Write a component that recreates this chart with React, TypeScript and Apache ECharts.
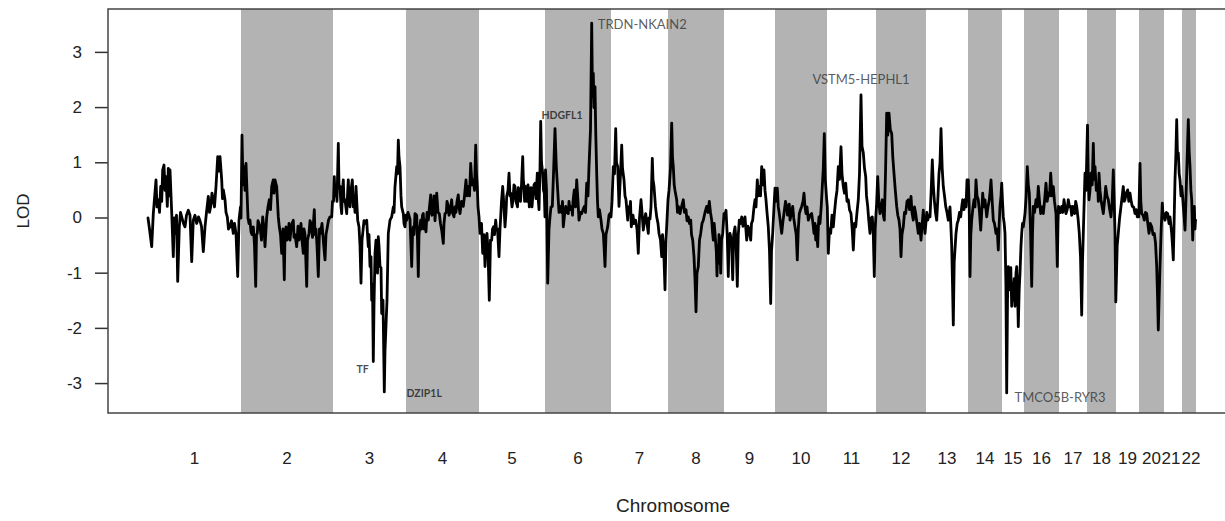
import React, { useEffect, useRef } from "react";
import * as echarts from "echarts";

// Chromosome names and (plotted) lengths in map units
const CHROMOSOMES = ["1","2","3","4","5","6","7","8","9","10","11","12","13","14","15","16","17","18","19","20","21","22"];
const CHROM_LENGTHS = [93, 92, 73, 73, 66, 66, 57, 56, 51, 52, 49, 50, 42, 34, 22, 35, 28, 29, 23, 25, 18, 14];

// LOD profile per chromosome: [position within chromosome, LOD]
const LOD_CHR1 = [[0,0],[1.5,-0.2],[3.7,-0.52],[5.3,0.08],[8,0.69],[9,0.2],[10.3,0.33],[11.5,0.1],[12.7,0.57],[13.7,0.3],[14.7,0.87],[16,0.96],[17,0.5],[18,0.75],[19.3,0.21],[20.3,0.9],[21,0.4],[22,0.87],[23.7,0.1],[25.3,-0.7],[26.3,0.0],[27.3,-0.28],[28.5,0.05],[29.7,-1.15],[31.3,-0.16],[32.5,0.1],[33.7,0.02],[35.5,-0.1],[37,-0.16],[38.5,0.05],[40.3,0.14],[42,0.05],[43.7,-0.79],[45.3,-0.04],[47,0.05],[48.7,-0.1],[50.5,0.02],[52,-0.05],[53.5,-0.15],[55.3,-0.61],[57,-0.16],[58.5,0.1],[60.3,0.39],[61.5,0.1],[62.7,0.21],[64,0.45],[65.3,0.33],[66.5,0.2],[68,0.57],[69.7,1.11],[71,0.85],[72,1.11],[73.7,0.69],[74.5,0.35],[75.3,0.51],[77,0.33],[78,0.1],[79.3,0.02],[80.5,-0.2],[82,-0.16],[83.5,-0.05],[85.3,-0.28],[86.5,-0.1],[88,-0.28],[89.7,-1.06],[91,-0.04],[92.5,0.2]];
const LOD_CHR2 = [[0,0.0],[1,1.5],[2,0.6],[3,0.93],[4,0.5],[5,0.99],[6.3,0.33],[7,0.0],[8,-0.1],[9,-0.04],[10,-0.25],[11,-0.3],[12.3,-0.16],[13.5,-0.5],[14.7,-1.24],[15.5,-0.3],[16.3,-0.28],[17,-0.05],[18,-0.1],[19,-0.16],[20.5,-0.4],[21.7,0.02],[23,-0.2],[24,-0.52],[25.7,0.02],[27,0.2],[28.3,0.33],[29.5,0.15],[30.7,0.57],[32.3,0.69],[33,0.45],[34,0.69],[35.7,0.57],[37.3,0.02],[38.3,-0.16],[39.5,-0.3],[40.7,-0.64],[42,-0.2],[43.3,-1.12],[44,-0.3],[45,-0.16],[46,-0.4],[47,-0.35],[48,-0.1],[49,-0.4],[50,-0.2],[51,-0.1],[52.3,-0.04],[53,-0.35],[54,-0.3],[55.7,-0.52],[57,-0.15],[58,-0.4],[59,-0.28],[60,-0.1],[61,-0.4],[62.3,-0.64],[63,-0.2],[64,-0.3],[65.7,-1.24],[66.5,-0.4],[68,-0.28],[69,-0.05],[70,-0.1],[71.5,-0.35],[73.3,0.15],[74,-0.3],[75,-0.2],[76,-0.5],[77.3,-1.06],[78.5,-0.2],[79.5,-0.28],[81,-0.1],[82.5,-0.45],[84,-0.76],[85,-0.3],[86,-0.2],[87.5,-0.04],[89,0.02],[90.7,0.02],[91.5,0.3]];
const LOD_CHR3 = [[0.5,0.3],[1.3,0.75],[2,0.4],[3,0.57],[4,0.3],[5.3,1.35],[6,0.6],[7,0.57],[8,0.2],[8.7,0.08],[9.5,0.5],[10.3,0.69],[11,0.3],[12,0.33],[13.7,0.08],[14.5,0.4],[15.3,0.69],[16,0.3],[17,0.2],[18,0.5],[19.3,0.69],[20.3,0.2],[21.3,0.33],[22,0.1],[23,0.57],[24.7,-0.04],[26,-0.16],[27,-0.5],[28,-1.18],[29,-0.4],[29.7,-0.28],[31,-0.05],[32,-0.1],[33.7,-0.04],[34.5,-0.3],[35.3,-0.52],[36,-0.3],[37,-0.88],[38,-0.7],[38.7,-1.49],[39.5,-1.2],[40.3,-2.6],[41,-1.6],[42,-0.64],[43,-0.4],[43.7,-0.4],[44.5,-1.0],[45.3,-0.34],[46,-0.5],[47,-0.88],[48,-0.9],[48.7,-1.73],[50,-1.49],[51.3,-3.15],[52,-2.4],[52.7,-2.1],[53.3,-1.8],[54,-1.49],[55.3,-0.28],[57,-0.04],[58.7,0.02],[60.3,0.2],[61,0.1],[62,0.57],[63.7,0.93],[64.5,0.8],[65.3,1.41],[66,1.1],[67,0.93],[68,0.4],[68.7,0.2],[70.3,0.08],[71,-0.1],[72,-0.16],[73,0.05]];
const LOD_CHR4 = [[0.7,-0.04],[2,0.1],[4,-0.02],[5.7,-0.88],[6.5,-0.3],[7.3,-0.16],[8,-0.3],[9,0.08],[10.7,0.05],[11.5,-0.4],[12.3,-1.06],[13,-0.3],[14.7,-0.04],[15.5,-0.2],[16.5,0.05],[17.3,0.08],[18,-0.2],[19,-0.04],[20,-0.25],[21,0.1],[22.3,-0.04],[23.5,0.2],[24.7,0.42],[25.5,0.1],[26,0.05],[27.3,0.21],[28,0.4],[29,-0.05],[30.7,0.45],[32,0.1],[33.3,0.08],[34.5,-0.1],[35.7,-0.22],[37.3,-0.46],[38,-0.1],[39,0.08],[40.3,0.1],[41,0.3],[42.3,0.21],[43,0.05],[44,0.1],[45.7,0.33],[46.5,0.1],[48,0.02],[49,0.2],[50,0.1],[51,0.3],[52.3,0.42],[53,0.2],[54,0.08],[55.5,0.3],[57.3,0.21],[58.5,0.4],[60,0.69],[61,0.4],[62.3,0.57],[63.5,0.4],[64.7,0.99],[66,0.6],[67.3,0.69],[68.5,0.5],[69.7,1.32],[70.5,0.8],[71.3,0.57],[72,0.2],[73,0.02]];
const LOD_CHR5 = [[1,-0.28],[2.5,-0.1],[3.7,-0.64],[5,-0.3],[6,-0.88],[7,-0.5],[8,-0.28],[9,-0.6],[10.3,-1.49],[11.5,-0.4],[12.7,-0.4],[13.5,-0.2],[14.5,-0.16],[15.5,-0.3],[16.7,-0.04],[17.5,-0.2],[18.5,-0.2],[20,-0.7],[21,-0.2],[21.7,0.02],[22.5,0.3],[23.7,0.57],[25,0.2],[26,-0.16],[27,0.1],[27.7,0.39],[29,0.5],[30,0.81],[31,0.4],[31.7,0.45],[33,0.2],[34,0.33],[35,0.6],[36,0.57],[37,0.3],[38.5,0.2],[39.3,0.55],[40,0.5],[41.5,0.3],[42.5,0.6],[43.7,1.11],[44.3,0.7],[45,0.57],[45.6,0.3],[46.3,0.57],[47.2,0.4],[48,0.3],[49,0.6],[49.7,0.45],[50.3,0.2],[51,0.33],[52,0.55],[53,0.2],[54,0.45],[55,0.6],[56,0.63],[57,0.35],[58.3,0.81],[59,0.4],[60,0.15],[61,0.9],[61.7,1.75],[62.5,1.0],[63.7,0.81],[64.5,0.5],[65.3,0.45],[66,0.02]];
const LOD_CHR6 = [[0.5,0.87],[1.5,0.5],[2.7,-1.18],[4,-0.2],[5,0.02],[6,0.2],[7.3,0.21],[8.5,0.8],[10,1.62],[11.3,0.93],[12.7,0.5],[14,0.1],[15,0.21],[16.5,0.1],[17.5,0.3],[18.3,-0.16],[19.5,0.05],[20.7,0.21],[22,0.1],[23.3,0.08],[24,0.3],[25,0.15],[26.7,0.21],[27.5,0.05],[28,0.3],[29.3,0.51],[30.5,0.2],[31.7,0.69],[33,0.3],[34,-0.04],[35.5,0.1],[36.7,0.08],[38,0.15],[39.3,0.21],[40.5,0.1],[41.7,0.63],[43,0.4],[44,0.93],[45.5,1.6],[46.7,3.53],[47.5,2.2],[48.3,2.62],[49,2.0],[50,2.38],[50.8,1.5],[51.7,0.81],[52.5,0.3],[53.3,0.02],[54.5,0.15],[56,-0.04],[57,-0.2],[58.3,-0.28],[59,-0.5],[60,-0.88],[61,-0.3],[62.7,-0.16],[64,0.05],[65,0.08]];
const LOD_CHR7 = [[0,0.02],[1,0.3],[2.3,0.93],[3.5,0.8],[4.7,1.62],[5.5,1.0],[6.7,0.93],[8,0.21],[9.5,0.8],[10.7,1.32],[11.5,0.9],[13,0.69],[14,0.4],[15,0.33],[16.7,-0.04],[17.5,0.2],[18.5,0.1],[19.5,0.3],[20.3,-0.16],[22,0.05],[23,-0.1],[24.7,-0.04],[26,-0.2],[27.3,-0.64],[28.5,0.0],[30,0.33],[31,0.1],[32.3,-0.22],[33.5,-0.05],[34.7,0.08],[36,-0.1],[37.3,-0.28],[38,0.0],[39,-0.02],[40,0.2],[41.3,1.08],[42,0.7],[43,0.57],[44.5,0.2],[45.7,0.02],[47,-0.1],[48,-0.28],[49.5,-0.4],[50.7,-0.7],[51.5,-0.3],[52.5,-0.5],[53.3,-0.9],[54,-1.3],[55,-0.4],[56,-0.04],[57,0.33]];
const LOD_CHR8 = [[1,0.5],[2.5,0.9],[3.7,1.72],[4.5,1.1],[5.3,0.93],[6.2,0.6],[7,0.5],[8.7,0.33],[9.5,0.1],[10.3,0.21],[12,0.08],[13.5,0.2],[15.3,0.33],[16.5,0.1],[18,0.15],[19,-0.05],[20.3,0.02],[21.5,-0.1],[22.7,-0.04],[23.5,-0.3],[24.7,-0.4],[26,-0.7],[27,-1.12],[28,-1.7],[29,-1.0],[30.3,-0.88],[31.5,-0.4],[32.7,-0.28],[34,-0.1],[35.3,-0.04],[37,0.1],[38.7,0.21],[40,0.1],[41.3,0.3],[42.5,0.1],[43.7,-0.04],[44.5,-0.25],[45.3,-0.4],[46.2,-0.1],[47,-0.28],[48.3,-0.6],[49,-1.05],[49.7,-0.5],[50.3,-0.82],[51,-0.3],[51.5,-0.4],[52.2,-0.7],[52.7,-1.0],[53.5,-0.4],[54.7,-0.28],[56,0.08]];
const LOD_CHR9 = [[0.5,0.0],[2,0.14],[3.2,-0.3],[4.3,-1.06],[5,-0.4],[6,-0.28],[7.5,-0.4],[8.7,-1.12],[9.7,-0.3],[11,-0.16],[12,-0.4],[13.3,-1.24],[14.3,-0.3],[15.3,-0.04],[16.5,-0.1],[17.7,0.02],[19,-0.15],[20,-0.05],[21,0.02],[22.7,-0.4],[24,-0.15],[25,-0.2],[26.7,-0.4],[27.5,-0.1],[28.7,-0.04],[30,0.2],[31,0.33],[32,0.2],[33.3,0.69],[34.3,0.4],[35.3,0.57],[36.5,0.4],[37.7,0.93],[38.7,0.6],[40,0.87],[41,0.5],[42,0.33],[43,0.1],[44.3,-0.16],[45.5,-0.6],[46.7,-1.55],[47.5,-0.6],[48.7,-0.28],[50,0.2],[51,0.54]];
const LOD_CHR10 = [[0.5,0.3],[2.3,0.54],[3.3,0.2],[4.3,0.08],[5.5,-0.1],[6.7,-0.28],[8,-0.05],[9,0.08],[10.5,0.3],[11.7,0.21],[12.5,0.05],[13.5,0.05],[14.3,0.25],[15,-0.04],[16.5,0.1],[17.7,0.21],[18.7,0.0],[20,-0.16],[21.2,-0.3],[22.3,-0.76],[23.3,-0.2],[24.3,0.08],[25.5,0.15],[26.7,0.21],[28,0.3],[29,0.45],[30,0.2],[31,0.08],[32,0.2],[33.3,-0.04],[35,0.05],[36.7,0.08],[38,-0.1],[39,-0.28],[40,-0.1],[40.7,-0.4],[41.5,-0.15],[42.7,-0.52],[43.5,-0.1],[44,0.02],[45,-0.1],[46.2,0.2],[47.3,0.57],[48.3,0.9],[49.3,1.53],[50.3,0.7],[51.7,0.33]];
const LOD_CHR11 = [[0.3,0.2],[1.3,-0.64],[2.5,-0.2],[3.7,-0.28],[5,0.05],[6.3,-0.16],[7.5,0.1],[8.7,0.33],[10,0.5],[11.3,0.93],[12.5,0.7],[14,1.29],[15,0.8],[16.3,0.57],[17.5,0.45],[18.7,0.63],[20,0.3],[21.3,0.33],[22.5,0.15],[24,0.08],[25.2,-0.2],[26.3,-0.58],[27.5,-0.1],[28.7,-0.16],[30,0.1],[31.3,0.33],[32.5,0.8],[34,2.23],[35,1.3],[36.3,1.18],[37.5,0.9],[38.7,0.75],[39.5,0.4],[40.7,0.21],[41.8,-0.05],[43,-0.28],[44,0.0],[45.3,0.02],[46.3,-0.3],[47.3,-1.06],[48.2,-0.2],[49,0.08]];
const LOD_CHR12 = [[0.5,0.2],[1.7,0.75],[2.8,0.3],[4,0.08],[5,0.2],[6.3,0.33],[7.3,0.05],[8.3,-0.04],[9.5,0.8],[10.7,1.9],[11.8,1.5],[13,1.9],[14.3,1.6],[15.7,1.53],[16.8,1.1],[18,0.81],[19.3,0.5],[20.7,0.21],[21.8,0.05],[23,-0.04],[24,-0.2],[25,-0.7],[26,-0.3],[27.3,-0.16],[28.5,0.1],[29.7,0.08],[31,0.3],[32.3,0.33],[33.5,0.15],[35,0.39],[36,0.1],[37.3,-0.04],[38.5,0.2],[39.7,0.08],[41,-0.1],[42.3,-0.28],[43.5,-0.1],[45,-0.4],[46.2,-0.1],[47.3,0.14],[48.2,-0.1],[49,-0.28]];
const LOD_CHR13 = [[0.8,0.1],[1.7,-0.04],[3,0.05],[4,0.02],[5.2,0.5],[6.3,1.05],[7.3,0.6],[8.3,0.33],[9.5,0.1],[10.7,-0.04],[12,0.4],[13,0.81],[14,1.0],[15,1.62],[16.2,0.9],[17.3,0.57],[18.5,0.4],[19.7,0.21],[21,0.1],[22.3,-0.04],[23.2,0.1],[24,0.2],[25,-0.2],[25.7,-0.5],[26.5,-1.2],[27.3,-1.94],[28.2,-0.8],[30,-0.28],[31.2,-0.1],[32.3,-0.04],[33.5,0.1],[34.7,0.02],[35.7,0.2],[36.7,0.33],[38,0.15],[39,0.33],[40,0.2],[41,0.69]];
const LOD_CHR14 = [[0.3,0.69],[1.2,0.2],[2,-1.06],[2.8,-0.3],[3.7,-0.04],[5,0.2],[6,0.33],[7,0.2],[8,0.69],[9,0.4],[10.3,0.33],[11.5,0.1],[12.7,-0.22],[13.7,0.1],[14.7,0.45],[15.8,0.2],[17,0.33],[18,0.15],[18.7,0.02],[20,0.2],[21.3,0.33],[22.2,0.5],[23,0.69],[24.2,0.3],[25.3,-0.04],[26.5,-0.1],[28,-0.28],[29.2,-0.2],[30.3,-0.58],[31.2,-0.1],[32,0.21],[33,0.4],[33.7,0.63]];
const LOD_CHR15 = [[0.5,0.3],[1.3,0.02],[2.2,-0.1],[3,-0.28],[3.9,-1.2],[4.7,-3.17],[5.5,-1.5],[6.3,-0.88],[7.2,-1.1],[8,-1.3],[8.8,-0.9],[9.7,-1.6],[10.5,-1.2],[11.3,-1.49],[12.2,-1.1],[13,-1.6],[14,-1.0],[14.7,-0.88],[15.5,-1.3],[16.3,-1.97],[17.2,-1.3],[18,-1.0],[19,-0.5],[19.7,-0.28],[20.5,-0.1],[21.3,-0.16]];
const LOD_CHR16 = [[1,0.08],[2.2,0.4],[3.3,0.93],[4.3,0.6],[5.3,0.45],[6.5,-0.2],[7.7,-1.24],[8.5,-0.3],[9.3,0.21],[10.5,0.1],[12,0.33],[13.2,0.2],[14.3,0.57],[15.5,0.3],[16.7,0.08],[18,0.2],[19.3,0.08],[20.5,0.3],[22,0.63],[23.2,0.3],[24.3,0.45],[25.5,0.4],[26.7,0.81],[28,0.4],[29.3,0.57],[30.5,0.3],[32,0.08],[32.7,-0.4],[33.3,-0.88],[34,-0.1],[34.5,0.21]];
const LOD_CHR17 = [[1.5,0.1],[2.7,0.21],[3.8,0.1],[5,0.33],[6,0.2],[7,0.08],[8.2,0.15],[9.3,0.33],[10.5,0.2],[11.7,0.21],[12.7,0.05],[13.7,0.21],[14.7,0.1],[15.7,0.08],[16.7,0.3],[17.7,0.21],[19,0.0],[20.3,-0.28],[21.5,-0.7],[22.7,-1.76],[23.5,-0.8],[24.3,-0.28],[25.2,0.3],[26,0.81],[27,0.5],[27.5,0.5]];
const LOD_CHR18 = [[0.5,1.68],[1.2,0.8],[2,0.33],[3,0.5],[4,0.81],[5.2,0.6],[6.3,1.35],[7.2,0.7],[8,0.93],[9.3,0.5],[10.7,0.57],[11.3,0.3],[12,0.81],[13,0.5],[14,0.33],[15.2,0.2],[16.3,0.08],[17.5,0.3],[18.7,0.57],[20,0.4],[21.3,0.33],[22.7,0.15],[24,0.02],[25.2,0.3],[26.3,0.87],[27.2,0.3],[28,-0.28],[28.8,-1.52]];
const LOD_CHR19 = [[1.2,-0.5],[2.3,-0.28],[3.6,0.0],[5,0.21],[6.2,0.4],[7.3,0.57],[8.2,0.3],[9,0.33],[10.3,0.45],[11.7,0.51],[12.8,0.3],[14,0.45],[15.2,0.3],[16.3,0.21],[17.7,0.2],[19,0.08],[20.2,0.15],[21.3,0.02],[22.8,0.02]];
const LOD_CHR20 = [[0.4,0.5],[1,0.99],[1.8,0.3],[2.7,0.08],[4,0.05],[5.3,-0.04],[6.5,0.1],[7.7,0.08],[8.8,-0.1],[10,-0.28],[11.3,-0.1],[12.7,-0.16],[14,-0.3],[15.3,-0.28],[16.5,-0.45],[17.7,-0.88],[18.5,-1.4],[19.3,-2.03],[20.2,-1.4],[21,-0.88],[22.2,-0.2],[23.3,0.27],[24.2,0.0],[25,0.08]];
const LOD_CHR21 = [[1,-0.04],[2.4,0.1],[3.7,0.08],[5,-0.1],[6,0.02],[7.7,-0.28],[8.5,-0.5],[9.3,-0.76],[10.2,0.0],[11,0.69],[11.8,1.1],[12.7,1.78],[13.5,1.1],[14.3,1.18],[15.2,0.8],[16,0.69],[17,0.4],[17.7,0.57]];
const LOD_CHR22 = [[0.6,0.4],[1.3,0.21],[2.2,0.0],[3,-0.22],[3.9,0.3],[4.7,0.81],[5.5,1.3],[6.3,1.78],[7.2,1.2],[8,0.93],[8.9,0.5],[9.7,0.33],[10.7,-0.4],[11.5,0.1],[12.3,0.21],[13,-0.2],[13.5,-0.04]];

const LOD_BY_CHROM = [LOD_CHR1, LOD_CHR2, LOD_CHR3, LOD_CHR4, LOD_CHR5, LOD_CHR6, LOD_CHR7, LOD_CHR8, LOD_CHR9, LOD_CHR10, LOD_CHR11, LOD_CHR12, LOD_CHR13, LOD_CHR14, LOD_CHR15, LOD_CHR16, LOD_CHR17, LOD_CHR18, LOD_CHR19, LOD_CHR20, LOD_CHR21, LOD_CHR22];

const Y_TICKS = [-3, -2, -1, 0, 1, 2, 3];
const Y_MIN = -3.533;
const Y_MAX = 3.786;

// Annotated genes, anchored at their peak
const GENE_NAMES = ["TF", "DZIP1L", "HDGFL1", "TRDN-NKAIN2", "VSTM5-HEPHL1", "TMCO5B-RYR3"];
const GENE_CHROM = [3, 3, 6, 6, 11, 15];
const GENE_POS = [40.3, 51.3, 10, 46.7, 34, 4.7];
const GENE_LOD = [-2.6, -3.15, 1.62, 3.53, 2.23, -3.17];

// label layout (style only)
const GENE_LABEL_STYLE: Record<string, any> = {
  "TF": { align: "right", dx: -4, dy: 8.5, bold: true },
  "DZIP1L": { align: "left", dx: 22.7, dy: 2, bold: true },
  "HDGFL1": { align: "center", dx: 7.5, dy: -13, bold: true },
  "TRDN-NKAIN2": { align: "left", dx: 6.6, dy: 1, bold: false },
  "VSTM5-HEPHL1": { align: "center", dx: 0.5, dy: -15, bold: false },
  "TMCO5B-RYR3": { align: "left", dx: 8.3, dy: 4.5, bold: false },
};

// plot frame layout (pixels)
const GRID_LEFT = 108;
const GRID_TOP = 9;
const GRID_W = 1130;
const GRID_H = 404;
const TICK_LEN = 13;

export default function App() {
  const ref = useRef<HTMLDivElement>(null);

  useEffect(() => {
    if (!ref.current) return;
    const chart = echarts.init(ref.current, undefined, { renderer: "svg" });

    const offsets: number[] = [];
    let acc = 0;
    CHROM_LENGTHS.forEach((l) => { offsets.push(acc); acc += l; });
    const total = acc;
    const xMin = -40;
    const xMax = total + 42;

    const lineData: number[][] = [];
    LOD_BY_CHROM.forEach((pts, i) => {
      pts.forEach(([p, v]) => lineData.push([offsets[i] + p, v]));
    });

    const mids = offsets.map((o, i) => o + CHROM_LENGTHS[i] / 2);
    const lastIdx = mids.length - 1;
    const bands: any[] = [];
    CHROM_LENGTHS.forEach((l, i) => {
      if (i % 2 === 1) bands.push([{ xAxis: offsets[i] }, { xAxis: offsets[i] + l }]);
    });

    const geneData = GENE_NAMES.map((name, i) => {
      const st = GENE_LABEL_STYLE[name];
      return {
        name,
        value: [offsets[GENE_CHROM[i] - 1] + GENE_POS[i], GENE_LOD[i]],
        label: {
          show: true,
          formatter: name,
          position: [st.dx, st.dy],
          align: st.align,
          verticalAlign: "middle",
          fontFamily: "Lato, 'Open Sans', sans-serif",
          fontSize: st.bold ? 10.5 : 13,
          fontWeight: st.bold ? "bold" : "normal",
          color: st.bold ? "#1a1a1a" : "#333",
        },
      };
    });

    const axisFont = "'Liberation Sans', Arial, Helvetica, sans-serif";
    const xFont = { fontFamily: axisFont, fontSize: 17, color: "#222" };
    const yFont = { fontFamily: axisFont, fontSize: 17, color: "#222" };
    // the last two (narrow) chromosome labels are nudged apart slightly
    const chromLabel = (v: number) => {
      const idx = mids.findIndex((m) => Math.abs(m - v) < 0.01);
      if (idx < 0) return "";
      if (idx === lastIdx - 1) return "{l|" + CHROMOSOMES[idx] + "}";
      if (idx === lastIdx) return "{r|" + CHROMOSOMES[idx] + "}";
      return CHROMOSOMES[idx];
    };
    const baseX = {
      type: "value",
      min: xMin,
      max: xMax,
      axisLine: { show: false, onZero: false },
      axisTick: { show: false },
      splitLine: { show: false },
    };
    const labelStyle = {
      hideOverlap: false,
      showMinLabel: true,
      showMaxLabel: true,
      margin: 37,
      ...xFont,
      formatter: chromLabel,
      rich: {
        l: { ...xFont, padding: [0, 4, 0, 0] },
        r: { ...xFont, padding: [0, 0, 0, 4] },
      },
    };

    const frame = {
      type: "rect",
      id: "frame",
      z: 100,
      silent: true,
      shape: { x: GRID_LEFT, y: GRID_TOP, width: GRID_W, height: GRID_H },
      style: { fill: "none", stroke: "#444", lineWidth: 1.5 },
    };

    chart.setOption({
      animation: false,
      backgroundColor: "#ffffff",
      grid: { left: GRID_LEFT, top: GRID_TOP, width: GRID_W, height: GRID_H, show: false, outerBoundsMode: "none" },
      xAxis: [
        {
          ...baseX,
          name: "Chromosome",
          nameLocation: "middle",
          nameGap: 83,
          nameTextStyle: { fontFamily: axisFont, fontSize: 19, color: "#222" },
          axisLabel: { ...labelStyle, customValues: mids.slice(0, lastIdx) },
        },
        {
          ...baseX,
          position: "bottom",
          axisLabel: { ...labelStyle, customValues: [mids[lastIdx]] },
        },
      ],
      yAxis: {
        type: "value",
        min: Y_MIN,
        max: Y_MAX,
        name: "LOD",
        nameLocation: "middle",
        nameGap: 76,
        nameTextStyle: { fontFamily: axisFont, fontSize: 17, color: "#222" },
        axisLine: { show: false, onZero: false },
        splitLine: { show: false },
        axisTick: { show: false },
        axisLabel: {
          customValues: Y_TICKS,
          margin: 0,
          ...yFont,
          // value text followed by a short tick bar that ends on the frame
          formatter: (v: number) => "{v|" + String(v) + "}{t|}",
          rich: {
            v: { ...yFont, padding: [0, TICK_LEN, 0, 0] },
            t: { width: TICK_LEN, height: 1.5, backgroundColor: "#333" },
          },
        },
      },
      graphic: [frame],
      series: [
        {
          type: "line",
          data: [],
          z: 1,
          silent: true,
          markArea: {
            silent: true,
            itemStyle: { color: "#b3b3b3", opacity: 1 },
            data: bands,
          },
        },
        {
          type: "line",
          data: lineData,
          z: 3,
          showSymbol: false,
          symbol: "none",
          silent: true,
          lineStyle: { color: "#000", width: 2.8, join: "round", cap: "round" },
        },
        {
          type: "scatter",
          data: geneData,
          z: 4,
          symbolSize: 1,
          silent: true,
          itemStyle: { color: "rgba(0,0,0,0)" },
        },
      ],
    });

    return () => chart.dispose();
  }, []);

  return (
    <div style={{ position: "fixed", left: 0, top: 0, width: 1225, height: 521, overflow: "hidden", background: "#fff" }}>
      <div ref={ref} style={{ width: 1250, height: 521 }} />
    </div>
  );
}
